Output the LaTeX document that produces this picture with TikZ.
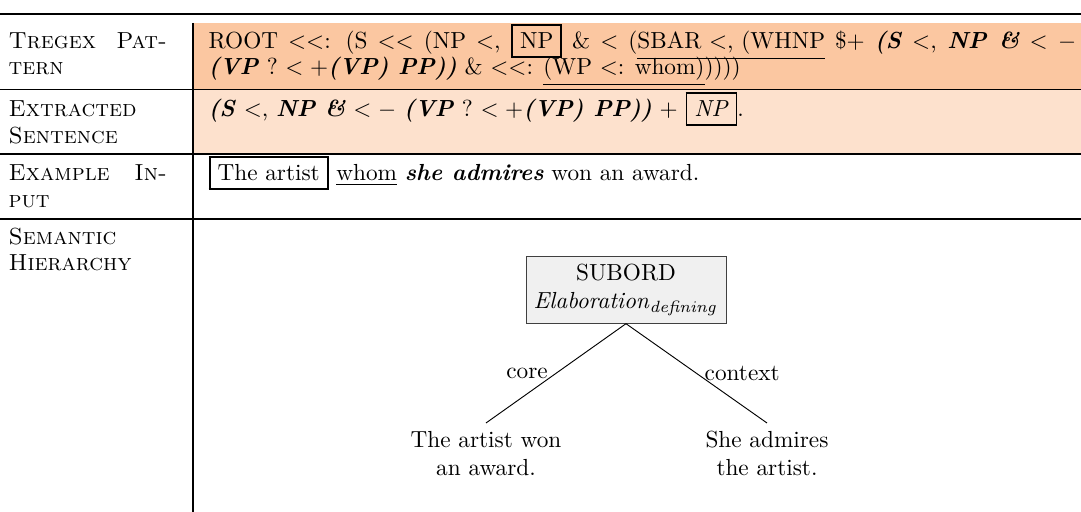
\documentclass[tikz,border=0pt]{standalone}
\usepackage{tikz}
\usepackage{xcolor}
\usetikzlibrary{positioning}

\definecolor{patfill}{RGB}{251,199,161}
\definecolor{sentfill}{RGB}{253,225,205}
\setlength{\fboxrule}{0.8pt}

\begin{document}
\begin{tikzpicture}[x=0.43pt,y=-0.43pt,semithick]
        \tikzstyle{headtxt}=[anchor=base west,inner sep=0pt]
        \tikzstyle{celltxt}=[anchor=base west,inner sep=0pt]
        \tikzstyle{relbox}=[draw=black!75,fill=black!6,thin,align=center]
        \tikzstyle{leafnode}=[align=center,anchor=north]
        \tikzstyle{thickrule}=[line width=1pt]

        \useasboundingbox (0,0) rectangle (1081,512);

        % row backgrounds
        \fill[patfill]  (193,23) rectangle (1081,89);
        \fill[sentfill] (193,89) rectangle (1081,154);

        % rules
        \draw[line width=1.2pt] (0,14) -- (1081,14);
        \draw[thin] (0,89) -- (1081,89);
        \draw[thickrule] (0,154) -- (1081,154);
        \draw[thickrule] (0,219) -- (1081,219);
        \draw[line width=0.8pt] (193,23) -- (193,512);

        % left column
        \node[headtxt] (patA)  at (8,49)  {\hbox to 68pt{\textsc{Tregex Pat-}}};
        \node[headtxt] (patB)  at (8,75)  {\textsc{tern}};
        \node[headtxt] (sentA) at (8,117) {\textsc{Extracted}};
        \node[headtxt] (sentB) at (8,144) {\textsc{Sentence}};
        \node[headtxt] (inA)   at (8,181) {\hbox to 68pt{\textsc{Example In-}}};
        \node[headtxt] (inB)   at (8,208) {\textsc{put}};
        \node[headtxt] (hierA) at (8,245) {\textsc{Semantic}};
        \node[headtxt] (hierB) at (8,271) {\textsc{Hierarchy}};

        % right column
        \node[celltxt] (pat1) at (208,49) {\hbox to 373pt{ROOT $<<$: (S $<<$ (NP $<$, \fbox{NP} \& $<$ (\underline{SBAR $<$, (WHNP} \$+ \textbf{\textit{(S}} $<$, \textbf{\textit{NP \&}} $<-$}};
        \node[celltxt] (pat2) at (208,75) {\textbf{\textit{(VP}} ? $<+$\textbf{\textit{(VP) PP))}} \& $<<$: \underline{(WP $<$: whom)}))))};
        \node[celltxt] (sent) at (208,117) {\textbf{\textit{(S}} $<$, \textbf{\textit{NP \&}} $<-$ \textbf{\textit{(VP}} ? $<+$\textbf{\textit{(VP) PP))}} $+$ \fbox{\textit{NP}}.};
        \node[celltxt] (input) at (208,181) {\fbox{The artist} \underline{whom} \textbf{\textit{she admires}} won an award.};

        % hierarchy
        \node[relbox]   (root) at (626,290) {SUBORD\\\textit{Elaboration}$_{\mathit{defining}}$};
        \node[leafnode] (core) at (486,423) {The artist won\\an award.};
        \node[leafnode] (ctx)  at (767,423) {She admires\\the artist.};

        \draw[thin] (root.south) -- node[left] {core} (core.north);
        \draw[thin] (root.south) -- node[right] {context} (ctx.north);
\end{tikzpicture}
\end{document}
